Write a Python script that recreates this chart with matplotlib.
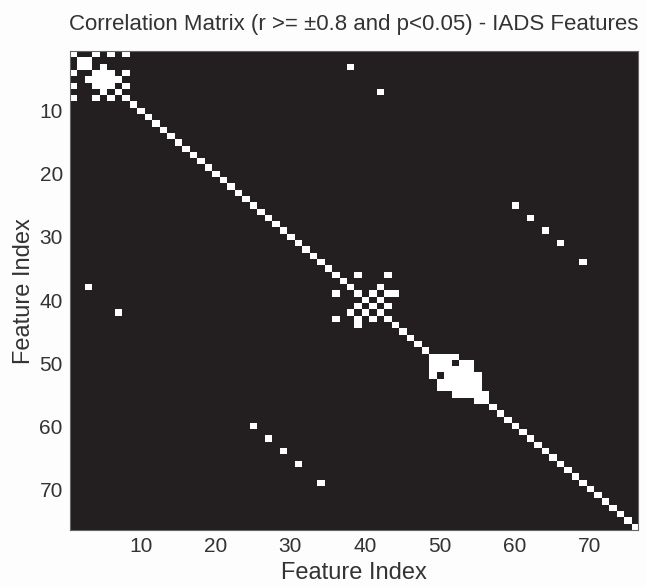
import numpy as np
import matplotlib.pyplot as plt
from matplotlib.colors import ListedColormap

n_features = 76
title = 'Correlation Matrix (r >= \u00b10.8 and p<0.05) - IADS Features'
ticks = [10, 20, 30, 40, 50, 60, 70]

# groups of mutually correlated features (1-based index)
groups = [
    [1, 4, 6, 8],
    [4, 5, 6],
    [36, 39, 43],
    [39, 41, 43],
    [39, 44],
    [49, 50, 51],
]
# single off-diagonal pairs (1-based)
pairs = [
    (3, 38), (7, 42), (2, 3), (3, 5), (5, 7),
    (25, 60), (27, 62), (29, 64), (31, 66), (34, 69),
    (39, 41), (40, 42), (38, 42),
]
# rows of the big block (row, first col, last col)
block_rows = [
    (49, 49, 52), (50, 49, 54), (51, 49, 54), (52, 49, 55),
    (53, 50, 55), (54, 50, 55), (55, 52, 56), (56, 55, 56),
]
holes = [(50, 52)]

M = np.eye(n_features)
for g in groups:
    for a in g:
        for b in g:
            M[a - 1, b - 1] = 1
for a, b in pairs:
    M[a - 1, b - 1] = 1
    M[b - 1, a - 1] = 1
for r, c0, c1 in block_rows:
    for c in range(c0, c1 + 1):
        M[r - 1, c - 1] = 1
        M[c - 1, r - 1] = 1
for a, b in holes:
    M[a - 1, b - 1] = 0
    M[b - 1, a - 1] = 0

plt.rcParams['font.family'] = ['Liberation Sans', 'DejaVu Sans']
fig = plt.figure(figsize=(6.46, 5.87), dpi=100)
ax = fig.add_axes([0.108, 0.097, 0.88, 0.816])
cmap = ListedColormap(['#231f20', '#ffffff'])
ax.imshow(M, cmap=cmap, vmin=0, vmax=1, aspect='auto', interpolation='nearest',
          extent=(0.5, n_features + 0.5, n_features + 0.5, 0.5))
ax.set_xticks(ticks)
ax.set_yticks(ticks)
ax.tick_params(labelsize=15, length=0, pad=5, colors='#333333')
for s in ax.spines.values():
    s.set_color('#666666')
    s.set_linewidth(0.8)
ax.set_title(title, fontsize=16, pad=15, color='#333333')
ax.set_xlabel('Feature Index', fontsize=17, color='#333333', labelpad=4)
ax.set_ylabel('Feature Index', fontsize=17, color='#333333', labelpad=3)
fig.savefig('out.png', dpi=100, facecolor='#fdfdfd')
